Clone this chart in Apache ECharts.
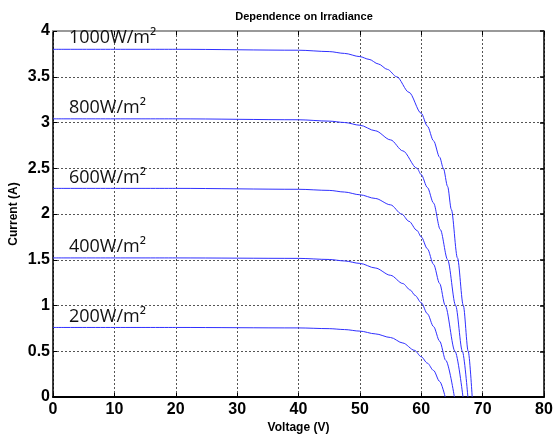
<!DOCTYPE html>
<html>
<head>
<meta charset="utf-8">
<script src="https://cdn.jsdelivr.net/npm/echarts@6/dist/echarts.min.js"></script>
<style>
  html, body { margin: 0; padding: 0; background: #fff; }
  #chart { width: 554px; height: 440px; }
</style>
</head>
<body>
<div id="chart"></div>
<script>
// I-V characteristics of a PV module at five irradiance levels
const irradianceLabels = ['1000W/m²', '800W/m²', '600W/m²', '400W/m²', '200W/m²'];

const volt1000 = [0, 20, 40, 45, 47.5, 50, 51.5, 53, 54.5, 56, 58, 60, 61, 62, 63, 63.6, 64.3, 64.9, 65.9, 66.85, 67.65, 68.3];
const amp1000  = [3.80, 3.80, 3.79, 3.775, 3.755, 3.72, 3.69, 3.64, 3.58, 3.50, 3.33, 3.10, 2.96, 2.80, 2.62, 2.50, 2.30, 2.05, 1.52, 1.00, 0.50, 0];

const volt800 = [0, 20, 40, 45, 47.5, 50, 52.5, 55, 57, 59.3, 60, 61, 62, 63.1, 64.3, 65.6, 66.7, 67.6];
const amp800  = [3.04, 3.04, 3.03, 3.015, 3.0, 2.97, 2.91, 2.81, 2.69, 2.50, 2.43, 2.29, 2.12, 1.83, 1.50, 1.00, 0.50, 0];

const volt600 = [0, 20, 40, 45, 47.5, 50, 52.5, 55, 56.8, 58, 59.3, 60, 61, 62, 63, 63.9, 65.5, 66.8];
const amp600  = [2.28, 2.28, 2.27, 2.258, 2.24, 2.21, 2.17, 2.10, 2.00, 1.92, 1.82, 1.75, 1.62, 1.45, 1.24, 1.00, 0.50, 0];

const volt400 = [0, 20, 40, 45, 47.5, 50, 52.5, 55, 57, 58.2, 59, 60, 61, 62, 63, 64, 65.4];
const amp400  = [1.52, 1.52, 1.515, 1.503, 1.487, 1.46, 1.41, 1.33, 1.24, 1.17, 1.11, 1.03, 0.91, 0.77, 0.61, 0.40, 0];

const volt200 = [0, 20, 40, 45, 47.5, 50, 52.5, 55, 57, 58.9, 60, 61, 62, 63, 63.9];
const amp200  = [0.76, 0.76, 0.755, 0.747, 0.737, 0.72, 0.69, 0.65, 0.59, 0.51, 0.44, 0.37, 0.29, 0.17, 0];

const xTicks = { min: 0, max: 80, step: 10 };
const yTicks = { min: 0, max: 4, step: 0.5 };

const curves = [
  [volt1000, amp1000],
  [volt800, amp800],
  [volt600, amp600],
  [volt400, amp400],
  [volt200, amp200]
];

const boldFont = '"Liberation Sans", Arial, sans-serif';
const gridLine = { show: true, lineStyle: { color: '#555', type: [2, 2], width: 1 } };

const series = curves.map(function (c, k) {
  const pts = c[0].map(function (v, i) { return [v, c[1][i]]; });
  return {
    type: 'line',
    data: pts,
    showSymbol: false,
    smooth: 0.3,
    smoothMonotone: 'x',
    lineStyle: { color: '#3030ff', width: 1 },
    animation: false,
    markPoint: {
      symbol: 'circle',
      symbolSize: 0,
      data: [{ coord: [2.6, c[1][0]] }],
      label: {
        show: true,
        position: 'right',
        distance: 0,
        offset: [0, -11],
        formatter: irradianceLabels[k],
        fontFamily: '"Open Sans", "Noto Sans", sans-serif',
        fontSize: 18,
        color: '#111'
      }
    }
  };
});

const chart = echarts.init(document.getElementById('chart'), null, { renderer: 'canvas' });
chart.setOption({
  animation: false,
  backgroundColor: '#fff',
  title: {
    text: 'Dependence on Irradiance',
    left: 299,
    textAlign: 'center',
    top: 6,
    textStyle: { fontFamily: boldFont, fontWeight: 'bold', fontSize: 11, color: '#000' }
  },
  grid: { left: 53, right: 10, top: 31, bottom: 43, outerBoundsMode: 'none', containLabel: false },
  xAxis: [{
    type: 'value',
    min: xTicks.min, max: xTicks.max, interval: xTicks.step,
    name: 'Voltage (V)',
    nameLocation: 'middle',
    nameGap: 25,
    nameMoveOverlap: false,
    nameTextStyle: { fontFamily: boldFont, fontWeight: 'bold', fontSize: 12, color: '#000' },
    axisLine: { show: true, onZero: false, lineStyle: { color: '#000', width: 2 } },
    axisTick: { show: true, inside: true, length: 4, lineStyle: { color: '#000' } },
    axisLabel: { fontFamily: boldFont, fontWeight: 'bold', fontSize: 16, color: '#000', margin: 5 },
    splitLine: gridLine
  }, {
    type: 'value',
    position: 'top',
    min: xTicks.min, max: xTicks.max, interval: xTicks.step,
    axisLine: { show: true, onZero: false, lineStyle: { color: '#999', width: 2 } },
    axisTick: { show: true, inside: true, length: 4, lineStyle: { color: '#000' } },
    axisLabel: { show: false },
    splitLine: { show: false }
  }],
  yAxis: [{
    type: 'value',
    min: yTicks.min, max: yTicks.max, interval: yTicks.step,
    name: 'Current (A)',
    nameLocation: 'middle',
    nameRotate: 90,
    nameGap: 33,
    nameMoveOverlap: false,
    nameTextStyle: { fontFamily: boldFont, fontWeight: 'bold', fontSize: 12, color: '#000' },
    axisLine: { show: true, onZero: false, lineStyle: { color: '#000', width: 1.5 } },
    axisTick: { show: true, inside: true, length: 4, lineStyle: { color: '#000' } },
    axisLabel: { fontFamily: boldFont, fontWeight: 'bold', fontSize: 16, color: '#000', margin: 3 },
    splitLine: gridLine
  }, {
    type: 'value',
    position: 'right',
    min: yTicks.min, max: yTicks.max, interval: yTicks.step,
    axisLine: { show: true, onZero: false, lineStyle: { color: '#000', width: 1.5 } },
    axisTick: { show: true, inside: true, length: 4, lineStyle: { color: '#000', width: 1.5 } },
    axisLabel: { show: false },
    splitLine: { show: false }
  }],
  series: series
});
</script>
</body>
</html>
